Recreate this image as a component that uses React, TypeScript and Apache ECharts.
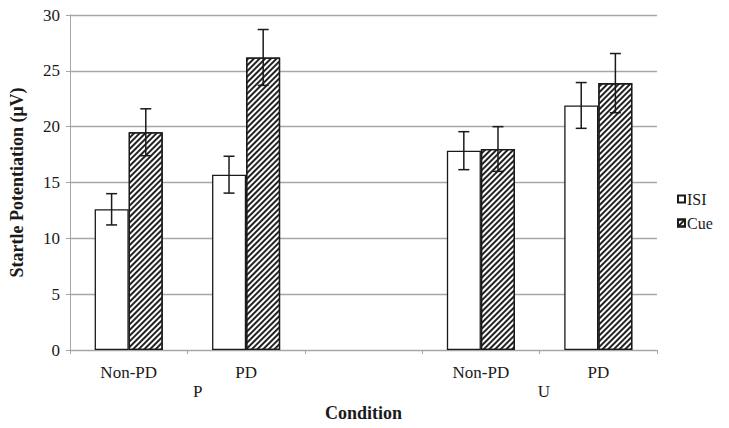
import React, { useEffect, useRef } from "react";
import * as echarts from "echarts";

const categories = ["Non-PD", "PD", "", "Non-PD", "PD"];
const groupLabels = [
  { label: "P", slot: 43 },
  { label: "U", slot: 161 },
];
const groupSlots = 200;
const isiValues: (number | null)[] = [12.6, 15.7, null, 17.85, 21.9];
const isiErrors: (number | null)[] = [1.4, 1.65, null, 1.7, 2.05];
const cueValues: (number | null)[] = [19.5, 26.2, null, 18.0, 23.9];
const cueErrors: (number | null)[] = [2.1, 2.5, null, 2.0, 2.65];
const yTicks = { min: 0, max: 30, interval: 5 };

const FONT = "'Liberation Serif', 'Times New Roman', serif";
const INK = "#1a1a1a";
const GRID = "#a6a6a6";

function errData(vals: (number | null)[], errs: (number | null)[]) {
  const out: any[] = [];
  vals.forEach((v, i) => {
    if (v != null && errs[i] != null) out.push([i, v, errs[i]]);
  });
  return out;
}

function makeErrRender(side: number) {
  return (params: any, api: any) => {
    const idx = api.value(0);
    const val = api.value(1);
    const err = api.value(2);
    const band = api.size([1, 0])[0];
    const off = side * band * 0.1455;
    const top = api.coord([idx, val + err]);
    const bot = api.coord([idx, val - err]);
    const x = top[0] + off;
    const cap = 5.5;
    const style = { stroke: INK, lineWidth: 1.5 };
    return {
      type: "group",
      children: [
        { type: "line", shape: { x1: x, y1: top[1], x2: x, y2: bot[1] }, style },
        { type: "line", shape: { x1: x - cap, y1: top[1], x2: x + cap, y2: top[1] }, style },
        { type: "line", shape: { x1: x - cap, y1: bot[1], x2: x + cap, y2: bot[1] }, style },
      ],
    };
  };
}

export default function App() {
  const ref = useRef<HTMLDivElement>(null);
  useEffect(() => {
    document.body.style.margin = "0";
    if (!ref.current) return;
    const chart = echarts.init(ref.current, null, { renderer: "svg" });
    const slotData = Array.from({ length: groupSlots }, () => "");
    groupLabels.forEach((g) => (slotData[g.slot] = g.label));
    const hatch = {
      symbol: "rect",
      symbolSize: 1,
      color: "#222",
      backgroundColor: "#fff",
      dashArrayX: [1, 0],
      dashArrayY: [1.3, 1.3],
      rotation: -Math.PI / 4,
    };
    chart.setOption({
      animation: false,
      textStyle: { fontFamily: FONT, color: INK },
      grid: { left: 64, right: 72, top: 15, bottom: 78, containLabel: false },
      legend: {
        data: ["ISI", "Cue"],
        orient: "vertical",
        left: 677,
        top: 191,
        itemWidth: 7,
        itemHeight: 7,
        itemGap: 8,
        padding: 0,
        icon: "rect",
        textStyle: { fontFamily: FONT, fontSize: 16, color: INK, padding: [0, 0, 0, -3] },
      },
      xAxis: [
        {
          type: "category",
          data: categories,
          position: "bottom",
          axisLine: { show: true, lineStyle: { color: GRID, width: 1 } },
          axisTick: { show: true, length: 4, lineStyle: { color: GRID } },
          axisLabel: { fontFamily: FONT, fontSize: 17, color: INK, margin: 14, interval: 0 },
          name: "Condition",
          nameLocation: "middle",
          nameGap: 54,
          nameTextStyle: { fontFamily: FONT, fontSize: 18, fontWeight: "bold", color: INK },
        },
        {
          type: "category",
          data: slotData,
          position: "bottom",
          axisLine: { show: false },
          axisTick: { show: false },
          splitLine: { show: false },
          axisLabel: { fontFamily: FONT, fontSize: 17, color: INK, margin: 33, interval: 0 },
        },
      ],
      yAxis: {
        type: "value",
        min: yTicks.min,
        max: yTicks.max,
        interval: yTicks.interval,
        axisLine: { show: true, lineStyle: { color: GRID, width: 1 } },
        axisTick: { show: true, length: 4, lineStyle: { color: GRID } },
        splitLine: { show: true, lineStyle: { color: GRID, width: 1.3 } },
        axisLabel: { fontFamily: FONT, fontSize: 17, color: INK, margin: 10 },
        name: "Startle Potentiation (μV)",
        nameLocation: "middle",
        nameGap: 44,
        nameTextStyle: { fontFamily: FONT, fontSize: 18, fontWeight: "bold", color: INK },
      },
      series: [
        {
          name: "ISI",
          type: "bar",
          data: isiValues,
          barGap: "0%",
          barCategoryGap: "42%",
          itemStyle: { color: "#fff", borderColor: INK, borderWidth: 1.3 },
        },
        {
          name: "Cue",
          type: "bar",
          data: cueValues,
          barGap: "0%",
          barCategoryGap: "42%",
          itemStyle: { color: "#fff", borderColor: INK, borderWidth: 1.3, decal: hatch },
        },
        {
          name: "ISI err",
          type: "custom",
          data: errData(isiValues, isiErrors),
          encode: { x: 0, y: 1 },
          renderItem: makeErrRender(-1),
          z: 5,
        },
        {
          name: "Cue err",
          type: "custom",
          data: errData(cueValues, cueErrors),
          encode: { x: 0, y: 1 },
          renderItem: makeErrRender(1),
          z: 5,
        },
      ],
    });
    return () => chart.dispose();
  }, []);
  return <div ref={ref} style={{ width: 729, height: 428 }} />;
}
